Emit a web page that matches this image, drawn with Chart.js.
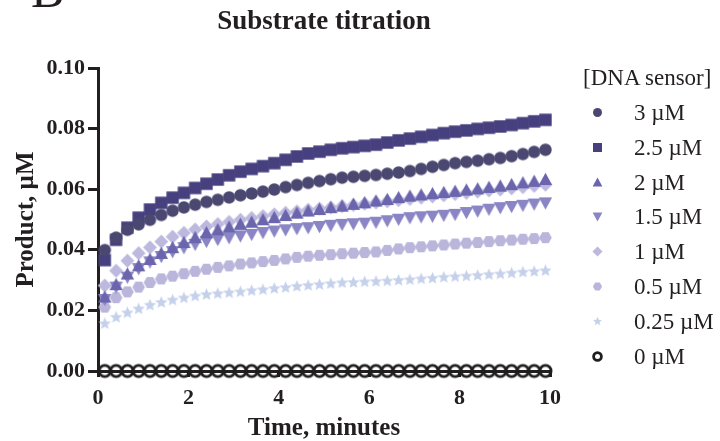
<!DOCTYPE html>
<html>
<head>
<meta charset="utf-8">
<script src="https://cdn.jsdelivr.net/npm/chart.js@4/dist/chart.umd.min.js"></script>
<style>
  html, body { margin: 0; padding: 0; background: #fff; }
  #wrap { position: relative; width: 720px; height: 441px; overflow: hidden;
          font-family: "Liberation Serif", "Times New Roman", serif; color: #231f20; }
  #chart { position: absolute; left: 0; top: 0; }
  .panel { position: absolute; left: 31px; top: -35px; font-size: 50px; line-height: 50px; }
  .title { position: absolute; left: 98px; width: 452px; top: 4px; text-align: center;
           font-weight: bold; font-size: 27px; line-height: 32px; }
  .legend-title { position: absolute; left: 583px; top: 63px; font-size: 23px; line-height: 30px; white-space: nowrap; }
  .row { position: absolute; left: 580px; height: 35px; line-height: 35px; font-size: 23px; white-space: nowrap; }
  .row canvas { position: absolute; }
  .row span { position: absolute; left: 54px; top: 0; }
</style>
</head>
<body>
<div id="wrap">
  <canvas id="chart" width="720" height="441"></canvas>
  <div class="panel">B</div>
  <div class="title">Substrate titration</div>
  <div class="legend-title">[DNA sensor]</div>
  <div id="legend"></div>
</div>
<script>
// time points, minutes
const times = [0.15, 0.40, 0.65, 0.90, 1.15, 1.40, 1.65, 1.90, 2.15, 2.40,
               2.65, 2.90, 3.15, 3.40, 3.65, 3.90, 4.15, 4.40, 4.65, 4.90,
               5.15, 5.40, 5.65, 5.90, 6.15, 6.40, 6.65, 6.90, 7.15, 7.40,
               7.65, 7.90, 8.15, 8.40, 8.65, 8.90, 9.15, 9.40, 9.65, 9.90];

// product, uM
const sensor3 = [0.0399, 0.0440, 0.0466, 0.0484, 0.0499, 0.0515, 0.0529, 0.0540, 0.0549, 0.0558,
                 0.0565, 0.0573, 0.0580, 0.0586, 0.0592, 0.0599, 0.0607, 0.0614, 0.0621, 0.0627,
                 0.0633, 0.0638, 0.0641, 0.0644, 0.0647, 0.0651, 0.0655, 0.0660, 0.0667, 0.0674,
                 0.0680, 0.0686, 0.0690, 0.0694, 0.0699, 0.0703, 0.0709, 0.0716, 0.0723, 0.0730];
const sensor2_5 = [0.0366, 0.0433, 0.0473, 0.0506, 0.0533, 0.0555, 0.0572, 0.0588, 0.0604, 0.0618,
                   0.0632, 0.0646, 0.0658, 0.0667, 0.0676, 0.0686, 0.0697, 0.0708, 0.0718, 0.0724,
                   0.0730, 0.0735, 0.0739, 0.0743, 0.0747, 0.0754, 0.0761, 0.0767, 0.0773, 0.0779,
                   0.0785, 0.0790, 0.0794, 0.0799, 0.0803, 0.0807, 0.0812, 0.0818, 0.0824, 0.0829];
const sensor2 = [0.0244, 0.0285, 0.0320, 0.0347, 0.0368, 0.0388, 0.0407, 0.0424, 0.0440, 0.0456,
                 0.0466, 0.0475, 0.0484, 0.0491, 0.0499, 0.0506, 0.0513, 0.0521, 0.0528, 0.0533,
                 0.0539, 0.0544, 0.0550, 0.0555, 0.0561, 0.0566, 0.0572, 0.0577, 0.0581, 0.0585,
                 0.0589, 0.0593, 0.0597, 0.0601, 0.0606, 0.0610, 0.0615, 0.0621, 0.0626, 0.0632];
const sensor1_5 = [0.0236, 0.0277, 0.0310, 0.0338, 0.0360, 0.0378, 0.0394, 0.0407, 0.0418, 0.0428,
                   0.0434, 0.0440, 0.0446, 0.0451, 0.0457, 0.0462, 0.0466, 0.0470, 0.0473, 0.0477,
                   0.0481, 0.0484, 0.0486, 0.0488, 0.0491, 0.0496, 0.0501, 0.0506, 0.0509, 0.0511,
                   0.0514, 0.0517, 0.0523, 0.0528, 0.0534, 0.0539, 0.0543, 0.0547, 0.0551, 0.0555];
const sensor1 = [0.0282, 0.0331, 0.0364, 0.0389, 0.0408, 0.0427, 0.0443, 0.0456, 0.0467, 0.0477,
                 0.0485, 0.0492, 0.0499, 0.0505, 0.0511, 0.0517, 0.0522, 0.0527, 0.0532, 0.0536,
                 0.0540, 0.0544, 0.0548, 0.0552, 0.0556, 0.0560, 0.0564, 0.0568, 0.0572, 0.0576,
                 0.0580, 0.0584, 0.0588, 0.0592, 0.0596, 0.0599, 0.0603, 0.0607, 0.0611, 0.0615];
const sensor0_5 = [0.0211, 0.0242, 0.0261, 0.0277, 0.0292, 0.0304, 0.0313, 0.0321, 0.0329, 0.0336,
                   0.0342, 0.0347, 0.0353, 0.0357, 0.0361, 0.0365, 0.0370, 0.0375, 0.0379, 0.0382,
                   0.0384, 0.0387, 0.0389, 0.0391, 0.0393, 0.0398, 0.0403, 0.0407, 0.0410, 0.0413,
                   0.0416, 0.0419, 0.0422, 0.0424, 0.0427, 0.0430, 0.0432, 0.0435, 0.0437, 0.0440];
const sensor0_25 = [0.0156, 0.0177, 0.0192, 0.0205, 0.0217, 0.0226, 0.0234, 0.0241, 0.0247, 0.0252,
                    0.0255, 0.0258, 0.0261, 0.0265, 0.0268, 0.0272, 0.0275, 0.0279, 0.0282, 0.0285,
                    0.0288, 0.0291, 0.0292, 0.0294, 0.0295, 0.0297, 0.0299, 0.0301, 0.0304, 0.0306,
                    0.0309, 0.0311, 0.0313, 0.0315, 0.0318, 0.0320, 0.0323, 0.0326, 0.0328, 0.0331];
const sensor0 = [0, 0, 0, 0, 0, 0, 0, 0, 0, 0,
                 0, 0, 0, 0, 0, 0, 0, 0, 0, 0,
                 0, 0, 0, 0, 0, 0, 0, 0, 0, 0,
                 0, 0, 0, 0, 0, 0, 0, 0, 0, 0];

const seriesLabels = ['3 \u00b5M', '2.5 \u00b5M', '2 \u00b5M', '1.5 \u00b5M', '1 \u00b5M', '0.5 \u00b5M', '0.25 \u00b5M', '0 \u00b5M'];
const seriesValues = [sensor3, sensor2_5, sensor2, sensor1_5, sensor1, sensor0_5, sensor0_25, sensor0];
const shapes = ['circle', 'square', 'up', 'down', 'diamond', 'hexagon', 'star', 'ring'];
const colors = ['#4a4771', '#46407f', '#6a65ad', '#8a85c4', '#bdb9de', '#bab5db', '#c5d1eb', '#1e1e1e'];

const ink = '#231f20';
const serif = '"Liberation Serif", "Times New Roman", serif';

// builds a small canvas with one marker, used as pointStyle
function makeMarker(shape, color, r) {
  const c = document.createElement('canvas');
  const s = Math.ceil(r * 2 + 6);
  c.width = s; c.height = s;
  const g = c.getContext('2d');
  const m = s / 2;
  g.fillStyle = color;
  g.strokeStyle = color;
  g.beginPath();
  if (shape === 'circle') {
    g.arc(m, m, r, 0, Math.PI * 2);
  } else if (shape === 'square') {
    g.rect(m - r, m - r, 2 * r, 2 * r);
  } else if (shape === 'up') {
    g.moveTo(m, m - r * 1.1);
    g.lineTo(m + r * 1.08, m + r * 0.9);
    g.lineTo(m - r * 1.08, m + r * 0.9);
  } else if (shape === 'down') {
    g.moveTo(m, m + r * 1.1);
    g.lineTo(m + r * 1.08, m - r * 0.9);
    g.lineTo(m - r * 1.08, m - r * 0.9);
  } else if (shape === 'diamond') {
    g.moveTo(m, m - r * 1.12);
    g.lineTo(m + r * 1.12, m);
    g.lineTo(m, m + r * 1.12);
    g.lineTo(m - r * 1.12, m);
  } else if (shape === 'hexagon') {
    for (let k = 0; k < 6; k++) {
      const a = k * Math.PI / 3;
      g.lineTo(m + r * 1.02 * Math.cos(a), m + r * 1.02 * Math.sin(a));
    }
  } else if (shape === 'star') {
    for (let k = 0; k < 10; k++) {
      const a = -Math.PI / 2 + k * Math.PI / 5;
      const rr = k % 2 === 0 ? r * 1.05 : r * 0.47;
      g.lineTo(m + rr * Math.cos(a), m + rr * Math.sin(a));
    }
  } else if (shape === 'ring') {
    g.arc(m, m, r - 0.6, 0, Math.PI * 2);
    g.lineWidth = 2.8;
    g.stroke();
    return c;
  }
  g.closePath();
  g.fill();
  return c;
}

const datasets = seriesValues.map((vals, i) => ({
  label: seriesLabels[i],
  data: times.map((t, j) => ({ x: t, y: vals[j] })),
  pointStyle: makeMarker(shapes[i], colors[i], 6.2),
  pointRadius: 5,
  showLine: false,
  clip: false
}));

// legend
const legend = document.getElementById('legend');
seriesLabels.forEach((lab, i) => {
  const row = document.createElement('div');
  row.className = 'row';
  row.style.top = (95 + i * 34.8) + 'px';
  const mk = makeMarker(shapes[i], colors[i], 4.5);
  mk.style.left = (17 - mk.width / 2) + 'px';
  mk.style.top = (17.5 - mk.height / 2) + 'px';
  row.appendChild(mk);
  const sp = document.createElement('span');
  sp.textContent = lab;
  row.appendChild(sp);
  legend.appendChild(row);
});

new Chart(document.getElementById('chart'), {
  type: 'scatter',
  data: { datasets: datasets },
  options: {
    responsive: false,
    animation: false,
    layout: { padding: { left: 0, right: 170, top: 68, bottom: 0 } },
    plugins: {
      legend: { display: false },
      tooltip: { enabled: false },
      title: { display: false }
    },
    scales: {
      x: {
        type: 'linear', min: 0, max: 10,
        afterFit: (s) => { s.height = 70; },
        ticks: { stepSize: 2, color: ink, padding: 8, maxRotation: 0,
                 font: { family: serif, size: 22, weight: 'bold' } },
        grid: { drawOnChartArea: false, drawTicks: true, tickLength: 6, color: ink, lineWidth: 3 },
        border: { display: true, color: ink, width: 3 },
        title: { display: true, text: 'Time, minutes', color: ink,
                 font: { family: serif, size: 25, weight: 'bold', lineHeight: 1 },
                 padding: { top: 0, bottom: 0 } }
      },
      y: {
        min: 0, max: 0.1,
        afterFit: (s) => { s.width = 98; },
        ticks: { stepSize: 0.02, color: ink, padding: 3,
                 font: { family: serif, size: 22, weight: 'bold' },
                 callback: (v) => v.toFixed(2) },
        grid: { drawOnChartArea: false, drawTicks: true, tickLength: 10, color: ink, lineWidth: 3 },
        border: { display: true, color: ink, width: 3 },
        title: { display: true, text: 'Product, \u00b5M', color: ink,
                 font: { family: serif, size: 25, weight: 'bold', lineHeight: 1 },
                 padding: { top: 14, bottom: 0 } }
      }
    }
  }
});
</script>
</body>
</html>
